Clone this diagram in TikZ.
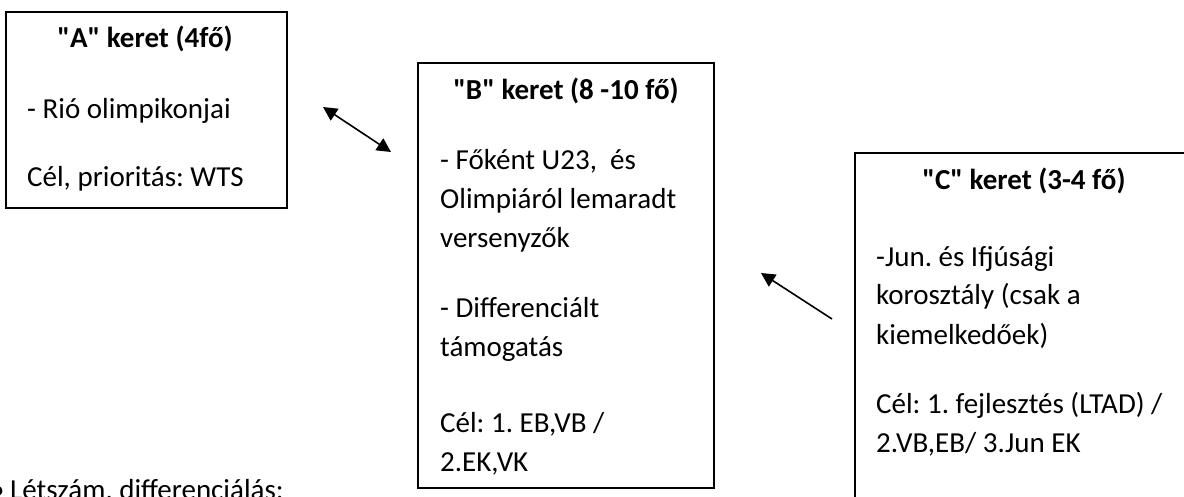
\documentclass[tikz,border=0pt]{standalone}
\usepackage{fontspec}
\setmainfont{Carlito}[Ligatures=TeXOff]
\usetikzlibrary{arrows.meta}
\frenchspacing
\begin{document}
\begin{tikzpicture}[x=1pt,y=-1pt,
  box/.style={draw=black,line width=1.3pt},
  txt/.style={anchor=base west,inner sep=0pt,font=\fontsize{29}{35}\selectfont\frenchspacing},
  ttl/.style={anchor=base,inner sep=0pt,font=\fontsize{29}{35}\selectfont\bfseries\frenchspacing},
  arr/.style={line width=1.6pt,-{Triangle[length=14pt,width=14pt]}},
  darr/.style={line width=1.6pt,{Triangle[length=14pt,width=14pt]}-{Triangle[length=14pt,width=14pt]}}]
\useasboundingbox (0,0) rectangle (1184,497);
% boxes
\draw[box] (6,12) rectangle (287,208);
\draw[box] (418,63) rectangle (714,488);
\draw[box] (1200,520) -- (855,520) -- (855,153) -- (1200,153);
% A
\node[ttl] (at) at (145,48) {"A" keret (4fő)};
\node[txt] (a1) at (27,119) {- Rió olimpikonjai};
\node[txt] (a2) at (27,187) {Cél, prioritás: WTS};
% B
\node[ttl] (bt) at (566,100) {"B" keret (8 -10 fő)};
\node[txt] (b1) at (440,170) {- Főként U23,\ \ és};
\node[txt] (b2) at (440,209) {Olimpiáról lemaradt};
\node[txt] (b3) at (440,248) {versenyzők};
\node[txt] (b4) at (440,317) {- Differenciált};
\node[txt] (b5) at (440,356) {támogatás};
\node[txt] (b6) at (440,432) {Cél: 1. EB,VB /};
\node[txt] (b7) at (440,471) {2.EK,VK};
% C
\node[ttl] (ct) at (1024,190) {"C" keret (3-4 fő)};
\node[txt] (c1) at (876,266) {-Jun. és Ifjúsági};
\node[txt] (c2) at (876,305) {korosztály (csak a};
\node[txt] (c3) at (876,344) {kiemelkedőek)};
\node[txt] (c4) at (876,413) {Cél: 1. fejlesztés (LTAD) /};
\node[txt] (c5) at (876,452) {2.VB,EB/ 3.Jun EK};
% bottom-left text
\node[txt] (bul) at (-10,499) {•};
\node[txt] (lt) at (10,499) {Létszám, differenciálás:};
% arrows
\coordinate (p1) at (323,107);
\coordinate (p2) at (391,152);
\draw[darr] (p1) -- (p2);
\coordinate (q1) at (832,319);
\coordinate (q2) at (761,273);
\draw[arr] (q1) -- (q2);
\end{tikzpicture}
\end{document}
